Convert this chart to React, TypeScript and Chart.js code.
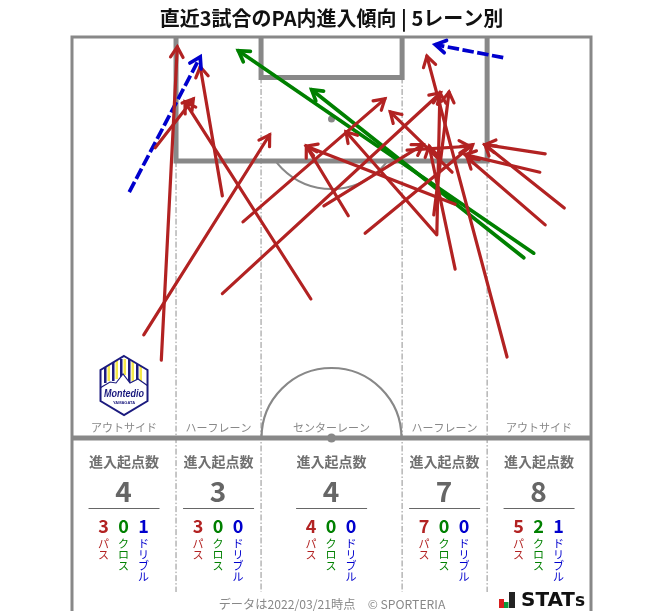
import React, { useEffect, useRef } from "react";
import { Chart, registerables } from "chart.js";

Chart.register(...registerables);

const TITLE = "直近3試合のPA内進入傾向 | 5レーン別";
const FOOTER = "データは2022/03/21時点　© SPORTERIA";

// Arrows, in metres from the top-left corner of the half pitch
const passFromX = [11.7, 9.4, 10.9, 19.7, 22.4, 19.7, 31.3, 36.2, 33.0, 38.4, 47.7, 50.2, 47.8, 47.4, 50.2, 49.8, 43.9, 57.0, 62.0, 61.3, 62.0, 64.5];
const passFromY = [42.3, 39.0, 14.5, 20.8, 24.2, 33.6, 34.3, 23.4, 22.1, 25.7, 25.8, 30.4, 25.9, 23.3, 21.9, 17.7, 14.8, 41.9, 15.3, 17.7, 24.6, 22.4];
const passToX = [13.8, 25.9, 15.9, 16.8, 41.0, 48.3, 14.8, 30.7, 46.0, 52.5, 35.9, 46.8, 48.2, 49.4, 30.7, 41.7, 52.1, 46.5, 54.1, 51.5, 51.8, 54.1];
const passToY = [1.3, 12.8, 8.1, 3.9, 8.1, 7.3, 8.5, 14.3, 14.1, 14.1, 12.4, 14.3, 7.3, 7.2, 14.3, 9.8, 14.3, 2.5, 14.1, 15.4, 15.8, 14.1];

const crossFromX = [60.5, 59.2];
const crossFromY = [28.3, 28.9];
const crossToX = [21.8, 31.4];
const crossToY = [1.8, 6.9];

const dribbleFromX = [7.5, 56.5];
const dribbleFromY = [20.3, 2.7];
const dribbleToX = [16.8, 47.6];
const dribbleToY = [2.6, 1.0];

// Lanes
const laneNames = ["アウトサイド", "ハーフレーン", "センターレーン", "ハーフレーン", "アウトサイド"];
const laneEdges = [0, 13.63, 24.77, 43.25, 54.39, 68];
const laneTotals = [4, 3, 4, 7, 8];
const lanePasses = [3, 3, 4, 7, 5];
const laneCrosses = [0, 0, 0, 0, 2];
const laneDribbles = [1, 0, 0, 0, 1];

const RED = "#b22222";
const GREEN = "#008000";
const BLUE = "#0000cd";
const PITCH = "#888888";
const JP = '"Noto Sans CJK JP"';

function arrowSets(fx: number[], fy: number[], tx: number[], ty: number[], color: string, dash: number[], width: number) {
  return fx.map((_, i) => ({
    type: "line" as const,
    data: [
      { x: fx[i], y: fy[i] },
      { x: tx[i], y: ty[i] },
    ],
    borderColor: color,
    borderWidth: width,
    borderDash: dash,
    borderCapStyle: dash.length ? ("butt" as const) : ("round" as const),
    pointRadius: 0,
    pointHoverRadius: 0,
    tension: 0,
    clip: false as const,
  }));
}

function drawLogo(ctx: CanvasRenderingContext2D, cx: number, top: number) {
  const NAVY = "#1b1a7e";
  ctx.save();
  ctx.translate(cx, top);
  const hex = () => {
    ctx.beginPath();
    ctx.moveTo(0, 0);
    ctx.lineTo(23.5, 14);
    ctx.lineTo(23.5, 45);
    ctx.lineTo(0, 59);
    ctx.lineTo(-23.5, 45);
    ctx.lineTo(-23.5, 14);
    ctx.closePath();
  };
  hex();
  ctx.fillStyle = "#ffffff";
  ctx.fill();
  ctx.save();
  hex();
  ctx.clip();
  const stripes = [-20, -12, -4, 4, 12];
  stripes.forEach((s, i) => {
    const h = [24, 22, 18, 24, 24][i];
    ctx.fillStyle = NAVY;
    ctx.fillRect(s, 3, 2.5, h);
    ctx.fillStyle = "#f4e84a";
    ctx.fillRect(s + 3.5, 3, 2.5, h - 2);
  });
  ctx.fillStyle = "#ffffff";
  ctx.strokeStyle = NAVY;
  ctx.lineWidth = 1.1;
  ctx.beginPath();
  ctx.moveTo(-24, 32);
  ctx.lineTo(-14, 26);
  ctx.lineTo(-8, 27);
  ctx.lineTo(-1, 18);
  ctx.lineTo(6, 27);
  ctx.lineTo(14, 23);
  ctx.lineTo(24, 30);
  ctx.lineTo(24, 60);
  ctx.lineTo(-24, 60);
  ctx.closePath();
  ctx.fill();
  ctx.stroke();
  ctx.restore();
  hex();
  ctx.strokeStyle = NAVY;
  ctx.lineWidth = 2;
  ctx.stroke();
  ctx.fillStyle = NAVY;
  ctx.textAlign = "center";
  ctx.textBaseline = "middle";
  ctx.font = 'italic bold 11px "Liberation Sans"';
  ctx.fillText("Montedio", 0, 38, 40);
  ctx.font = 'bold 4px "Liberation Sans"';
  ctx.fillText("YAMAGATA", 0, 46.5);
  ctx.restore();
}

const pitchPlugin = {
  id: "pitch",
  beforeDatasetsDraw(chart: any) {
    const { ctx, scales } = chart;
    const X = (v: number) => scales.x.getPixelForValue(v);
    const Y = (v: number) => scales.y.getPixelForValue(v);
    const line = (pts: number[][], w: number, color = PITCH, dash: number[] = []) => {
      ctx.save();
      ctx.strokeStyle = color;
      ctx.lineWidth = w;
      ctx.setLineDash(dash);
      ctx.lineJoin = "miter";
      ctx.beginPath();
      pts.forEach((p, i) => (i ? ctx.lineTo(p[0], p[1]) : ctx.moveTo(p[0], p[1])));
      ctx.stroke();
      ctx.restore();
    };
    const boxDepth = 16.25;
    const goalDepth = 5.3;
    const spot = 10.73;
    const arcR = X(9.17) - X(0);
    const bottom = chart.height;
    const panelEnd = 592;

    // lane separators
    const dd = [6, 2, 1.5, 2];
    line([[X(laneEdges[1]), Y(boxDepth)], [X(laneEdges[1]), panelEnd]], 1, "#909090", dd);
    line([[X(laneEdges[2]), Y(goalDepth)], [X(laneEdges[2]), panelEnd]], 1, "#909090", dd);
    line([[X(laneEdges[3]), Y(goalDepth)], [X(laneEdges[3]), panelEnd]], 1, "#909090", dd);
    line([[X(laneEdges[4]), Y(boxDepth)], [X(laneEdges[4]), panelEnd]], 1, "#909090", dd);

    // penalty arc
    ctx.save();
    ctx.beginPath();
    ctx.rect(X(0), Y(boxDepth), X(68) - X(0), 60);
    ctx.clip();
    ctx.strokeStyle = PITCH;
    ctx.lineWidth = 2;
    ctx.beginPath();
    ctx.arc(X(34), Y(spot), arcR, 0, Math.PI);
    ctx.stroke();
    ctx.restore();
    // centre circle
    ctx.save();
    ctx.strokeStyle = PITCH;
    ctx.lineWidth = 2.2;
    ctx.beginPath();
    ctx.arc(X(34), Y(52.5), arcR, Math.PI, 0);
    ctx.stroke();
    ctx.fillStyle = PITCH;
    ctx.beginPath();
    ctx.arc(X(34), Y(52.5), 4.5, 0, Math.PI * 2);
    ctx.fill();
    ctx.beginPath();
    ctx.arc(X(34), Y(spot), 3.5, 0, Math.PI * 2);
    ctx.fill();
    ctx.restore();

    // boxes
    line([[X(laneEdges[1]), Y(0)], [X(laneEdges[1]), Y(boxDepth)], [X(laneEdges[4]), Y(boxDepth)], [X(laneEdges[4]), Y(0)]], 5);
    line([[X(laneEdges[2]), Y(0)], [X(laneEdges[2]), Y(goalDepth)], [X(laneEdges[3]), Y(goalDepth)], [X(laneEdges[3]), Y(0)]], 5);
    // halfway & outer
    line([[X(0), Y(52.5)], [X(68), Y(52.5)]], 5);
    line([[X(0), bottom], [X(0), Y(0)], [X(68), Y(0)], [X(68), bottom]], 3);

    drawLogo(ctx, (X(laneEdges[0]) + X(laneEdges[1])) / 2, 356);

    // lane captions and counts
    ctx.save();
    ctx.textAlign = "center";
    ctx.textBaseline = "middle";
    laneNames.forEach((name, i) => {
      const mid = (X(laneEdges[i]) + X(laneEdges[i + 1])) / 2;
      const cx = mid - 0.5;
      ctx.fillStyle = "#888888";
      ctx.font = `11px ${JP}`;
      ctx.fillText(name, mid, 428);
      ctx.fillStyle = "#707070";
      ctx.font = `bold 14px ${JP}`;
      ctx.fillText("進入起点数", mid, 462);
      ctx.fillStyle = "#666666";
      ctx.font = `bold 28px ${JP}`;
      ctx.fillText(String(laneTotals[i]), cx, 491);
      ctx.fillRect(mid - 35.5, 508, 71, 1);
      const cols = [
        { v: lanePasses[i], c: RED, t: "パス", dx: -20 },
        { v: laneCrosses[i], c: GREEN, t: "クロス", dx: 0 },
        { v: laneDribbles[i], c: BLUE, t: "ドリブル", dx: 20 },
      ];
      cols.forEach((col) => {
        ctx.fillStyle = col.c;
        ctx.font = `bold 18px ${JP}`;
        ctx.fillText(String(col.v), cx + col.dx, 526);
        ctx.font = `11px ${JP}`;
        Array.from(col.t).forEach((ch, k) => ctx.fillText(ch, cx + col.dx, 544 + k * 11));
      });
    });
    // footer
    ctx.fillStyle = "#888888";
    ctx.font = `12.2px ${JP}`;
    ctx.fillText(FOOTER, 332, 604);
    // STATS mark
    ctx.fillStyle = "#d81e1e";
    ctx.fillRect(499, 599, 5, 9);
    ctx.fillStyle = "#0a9a3c";
    ctx.fillRect(504, 602, 4.5, 6);
    ctx.fillStyle = "#222222";
    ctx.fillRect(509, 592, 6, 16);
    ctx.fillStyle = "#111111";
    ctx.textAlign = "left";
    ctx.font = 'bold 20px "DejaVu Sans"';
    ctx.fillText("STAT", 521, 601, 54);
    ctx.font = 'bold 17px "DejaVu Sans"';
    ctx.fillText("s", 575, 602, 11);
    ctx.restore();
  },
};

const arrowPlugin = {
  id: "arrowHeads",
  afterDatasetsDraw(chart: any) {
    const { ctx } = chart;
    chart.data.datasets.forEach((ds: any, i: number) => {
      const pts = chart.getDatasetMeta(i).data;
      if (pts.length < 2) return;
      const a = pts[0];
      const b = pts[1];
      const ang = Math.atan2(b.y - a.y, b.x - a.x);
      const len = 12;
      const spread = 0.55;
      ctx.save();
      ctx.strokeStyle = ds.borderColor;
      ctx.lineWidth = ds.borderWidth;
      ctx.lineCap = "round";
      ctx.lineJoin = "miter";
      ctx.beginPath();
      ctx.moveTo(b.x - len * Math.cos(ang - spread), b.y - len * Math.sin(ang - spread));
      ctx.lineTo(b.x, b.y);
      ctx.lineTo(b.x - len * Math.cos(ang + spread), b.y - len * Math.sin(ang + spread));
      ctx.stroke();
      ctx.restore();
    });
  },
};

export default function App() {
  const ref = useRef<HTMLCanvasElement>(null);
  useEffect(() => {
    if (!ref.current) return;
    const chart = new Chart(ref.current, {
      type: "line",
      data: {
        datasets: [
          ...arrowSets(passFromX, passFromY, passToX, passToY, RED, [], 3.2),
          ...arrowSets(crossFromX, crossFromY, crossToX, crossToY, GREEN, [], 3.7),
          ...arrowSets(dribbleFromX, dribbleFromY, dribbleToX, dribbleToY, BLUE, [11.5, 3.5], 3.7),
        ],
      },
      options: {
        responsive: false,
        animation: false,
        events: [],
        layout: { padding: { left: 72, right: 72, top: 0, bottom: 173 } },
        scales: {
          x: { type: "linear", min: 0, max: 68, display: false },
          y: { type: "linear", min: 0, max: 52.5, reverse: true, display: false },
        },
        plugins: {
          legend: { display: false },
          tooltip: { enabled: false },
          title: {
            display: true,
            text: TITLE,
            color: "#111111",
            font: { family: JP, size: 20, weight: "bold", lineHeight: 1.2 },
            padding: { top: 6, bottom: 7 },
          },
        },
      },
      plugins: [pitchPlugin, arrowPlugin],
    } as any);
    return () => chart.destroy();
  }, []);
  return (
    <div style={{ position: "absolute", left: 0, top: 0, width: 663, height: 611, background: "#fff", overflow: "hidden" }}>
      <canvas ref={ref} width={663} height={611} style={{ display: "block" }} />
    </div>
  );
}
